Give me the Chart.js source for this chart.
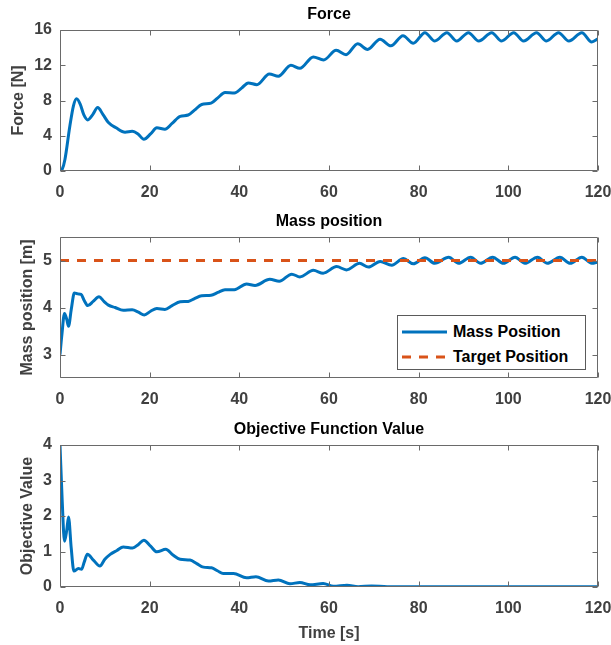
<!DOCTYPE html>
<html><head><meta charset="utf-8">
<script src="https://cdn.jsdelivr.net/npm/chart.js@4.4.0/dist/chart.umd.min.js"></script>
<style>
html,body{margin:0;padding:0;background:#fff;width:611px;height:645px;overflow:hidden;position:relative}
canvas.c{position:absolute;left:0}
#legend{position:absolute;left:397px;top:315px;width:189px;height:55px;border:1px solid #5a5a5a;background:#fff;font:bold 16px "Liberation Sans",Arial,sans-serif;color:#000;box-sizing:border-box}
#legend .row{position:absolute;left:4px;height:20px;display:flex;align-items:center;white-space:nowrap}
#legend svg{margin-right:6px}
</style>
</head><body>
<canvas id="c1" class="c" width="611" height="201" style="top:0px"></canvas>
<canvas id="c2" class="c" width="611" height="201" style="top:207px"></canvas>
<canvas id="c3" class="c" width="611" height="230" style="top:415px"></canvas>
<div id="legend">
  <div class="row" style="top:6px"><svg width="45" height="6"><line x1="0" y1="3" x2="45" y2="3" stroke="#0072BD" stroke-width="3"/></svg><span>Mass Position</span></div>
  <div class="row" style="top:31px"><svg width="45" height="6"><line x1="0" y1="3" x2="45" y2="3" stroke="#D95319" stroke-width="3" stroke-dasharray="9 8"/></svg><span>Target Position</span></div>
</div>
<script>
// ---- data ----
const xTicks = [0, 20, 40, 60, 80, 100, 120];

const forceTicks = [0, 4, 8, 12, 16];
const forceT = [0, 0.5, 1.1, 2.2, 3, 3.7, 4.5, 5.3, 6.2, 7.3, 8.4, 9.6, 10.8, 12.5, 14.5, 16.1, 17.4, 18.7, 20.2, 21.6, 23.4, 25, 26.8, 28.6, 30, 31.6, 33.7, 35.2, 36.8, 38.9, 40.5, 42, 43.9, 46.7, 48.7, 51.5, 53.5, 56.5, 58.8, 61.6, 63.8, 66.4, 68.6, 71.4, 73.8, 76.5, 78.8, 81.4, 83.6, 86.3, 88.5, 91.1, 93.4, 96.3, 98.5, 101.2, 103.4, 106.3, 108.5, 111.2, 113.5, 116.4, 118.6, 120];
const forceV = [0, 0.2, 1.3, 5.1, 7.4, 8.2, 7.6, 6.4, 5.8, 6.4, 7.2, 6.4, 5.5, 4.9, 4.4, 4.5, 4.2, 3.6, 4.2, 4.9, 4.75, 5.4, 6.2, 6.35, 6.9, 7.55, 7.7, 8.3, 8.9, 8.85, 9.4, 10.0, 9.8, 11.0, 10.75, 12.0, 11.65, 12.95, 12.6, 13.7, 13.2, 14.45, 13.8, 14.95, 14.2, 15.35, 14.5, 15.7, 14.75, 15.7, 14.75, 15.7, 14.75, 15.7, 14.75, 15.7, 14.75, 15.7, 14.75, 15.7, 14.75, 15.7, 14.65, 15.0];

const massTicks = [3, 4, 5];
const massT = [0, 0.4, 1.0, 1.5, 1.9, 2.5, 3.2, 4.0, 4.7, 5.4, 6.2, 7.4, 8.7, 9.8, 10.8, 12.3, 14.1, 16.1, 17.5, 18.8, 20.2, 21.6, 23.4, 25, 26.8, 28.6, 30, 31.6, 33.7, 35.2, 36.8, 38.9, 41.6, 43.5, 46.8, 48.9, 51.7, 53.5, 56.5, 58.7, 61.7, 63.9, 66.8, 68.8, 71.4, 74, 76.6, 78.8, 81.4, 83.6, 86.7, 88.9, 91.6, 93.8, 96.5, 98.9, 101.5, 103.7, 106.5, 108.7, 111.5, 113.8, 116.4, 118.6, 120];
const massV = [3.0, 3.4, 3.87, 3.75, 3.6, 3.95, 4.31, 4.29, 4.28, 4.15, 4.04, 4.13, 4.23, 4.13, 4.05, 4.0, 3.94, 3.95, 3.9, 3.84, 3.92, 3.98, 3.96, 4.04, 4.12, 4.13, 4.19, 4.25, 4.26, 4.32, 4.38, 4.38, 4.5, 4.47, 4.6, 4.56, 4.71, 4.65, 4.79, 4.73, 4.87, 4.80, 4.94, 4.86, 4.98, 4.9, 5.04, 4.93, 5.06, 4.94, 5.07, 4.94, 5.07, 4.94, 5.07, 4.94, 5.07, 4.94, 5.07, 4.94, 5.07, 4.94, 5.07, 4.94, 4.97];
const targetT = [0, 120];
const targetV = [5, 5];

const objTicks = [0, 1, 2, 3, 4];
const objT = [0, 0.5, 1.0, 1.5, 1.9, 2.5, 3.1, 4.1, 4.8, 5.4, 6.1, 7.5, 8.9, 10, 11.2, 12.7, 14.1, 16.2, 17.5, 18.7, 20.2, 21.6, 23.6, 25.2, 26.8, 29, 30.5, 32, 33.8, 35.2, 36.4, 38.7, 41.6, 43.7, 46.5, 48.7, 51.3, 53.5, 55.8, 58.7, 61, 64, 66.5, 69.5, 73, 80, 90, 100, 110, 120];
const objV = [4.0, 2.4, 1.29, 1.6, 1.97, 1.1, 0.45, 0.52, 0.5, 0.7, 0.92, 0.75, 0.59, 0.78, 0.92, 1.03, 1.13, 1.1, 1.2, 1.32, 1.15, 0.99, 1.06, 0.9, 0.78, 0.76, 0.66, 0.56, 0.54, 0.45, 0.38, 0.38, 0.26, 0.29, 0.17, 0.2, 0.09, 0.13, 0.06, 0.1, 0.02, 0.05, 0.01, 0.03, 0.01, 0.01, 0.01, 0.01, 0.01, 0.01];

// ---- rendering ----
const FAM = '"Liberation Sans", Arial, Helvetica, sans-serif';
Chart.defaults.font.family = FAM;
const TXT = '#404040';
const pts = (T, V) => T.map((t, i) => ({x: t, y: V[i]}));

const boxPlugin = {
  id: 'box',
  afterDraw(chart) {
    const {ctx, chartArea: a, scales: {x, y}} = chart;
    const L = Math.round(a.left) + 0.5, R = Math.round(a.right) - 0.5;
    const T = Math.round(a.top) + 0.5, B = Math.round(a.bottom) - 0.5;
    ctx.save();
    ctx.strokeStyle = '#6a6a6a';
    ctx.lineWidth = 1;
    ctx.beginPath();
    ctx.rect(L, T, R - L, B - T);
    x.ticks.forEach(t => {
      const p = Math.round(x.getPixelForValue(t.value)) + 0.5;
      ctx.moveTo(p, B); ctx.lineTo(p, B - 5);
      ctx.moveTo(p, T); ctx.lineTo(p, T + 5);
    });
    y.ticks.forEach(t => {
      const p = Math.round(y.getPixelForValue(t.value)) + 0.5;
      ctx.moveTo(L, p); ctx.lineTo(L + 5, p);
      ctx.moveTo(R, p); ctx.lineTo(R - 5, p);
    });
    ctx.stroke();
    ctx.restore();
  }
};

function font(sz) { return {family: FAM, size: sz, weight: 'bold', lineHeight: 1.2}; }

function makeChart(id, title, datasets, yMin, yMax, yTicks, yTitle, yTitlePad, xAxisH, showXTitle) {
  return new Chart(document.getElementById(id), {
    type: 'line',
    data: {datasets},
    plugins: [boxPlugin],
    options: {
      responsive: false,
      animation: false,
      layout: {padding: {left: 0, right: 13, top: 0, bottom: 0}},
      plugins: {
        legend: {display: false},
        tooltip: {enabled: false},
        title: {display: true, text: title, color: '#000', fullSize: false,
                font: {family: FAM, size: 16, weight: 'bold', lineHeight: 1.25},
                padding: {top: 5, bottom: 5}}
      },
      elements: {point: {radius: 0}, line: {borderWidth: 3, cubicInterpolationMode: 'monotone'}},
      scales: {
        x: {
          type: 'linear', min: 0, max: 120,
          afterBuildTicks: s => { s.ticks = xTicks.map(v => ({value: v})); },
          afterFit: s => { s.height = xAxisH; s.paddingLeft = 0; s.paddingRight = 0; },
          grid: {display: false, drawTicks: false},
          border: {display: false},
          ticks: {color: TXT, font: font(16), padding: 12, maxRotation: 0, autoSkip: false},
          title: {display: showXTitle, text: 'Time [s]', color: TXT, font: font(16), padding: {top: 0, bottom: 2}}
        },
        y: {
          type: 'linear', min: yMin, max: yMax,
          afterBuildTicks: s => { s.ticks = yTicks.map(v => ({value: v})); },
          afterFit: s => { s.width = 60; s.paddingTop = 0; s.paddingBottom = 0; },
          grid: {display: false, drawTicks: false},
          border: {display: false},
          ticks: {color: TXT, font: font(16), padding: 8},
          title: {display: true, text: yTitle, color: TXT, font: font(16), padding: {top: yTitlePad, bottom: 0}}
        }
      }
    }
  });
}

makeChart('c1', 'Force', [
  {label: 'Force', data: pts(forceT, forceV), borderColor: '#0072BD'}
], 0, 16, forceTicks, 'Force [N]', 9, 30, false);

makeChart('c2', 'Mass position', [
  {label: 'Mass Position', data: pts(massT, massV), borderColor: '#0072BD', order: 1},
  {label: 'Target Position', data: pts(targetT, targetV), borderColor: '#D95319', borderDash: [9, 8], order: 0, cubicInterpolationMode: 'default', tension: 0}
], 2.5, 5.5, massTicks, 'Mass position [m]', 18, 30, false);

makeChart('c3', 'Objective Function Value', [
  {label: 'Objective Value', data: pts(objT, objV), borderColor: '#0072BD'}
], 0, 4, objTicks, 'Objective Value', 18, 58, true);
</script>
</body></html>
